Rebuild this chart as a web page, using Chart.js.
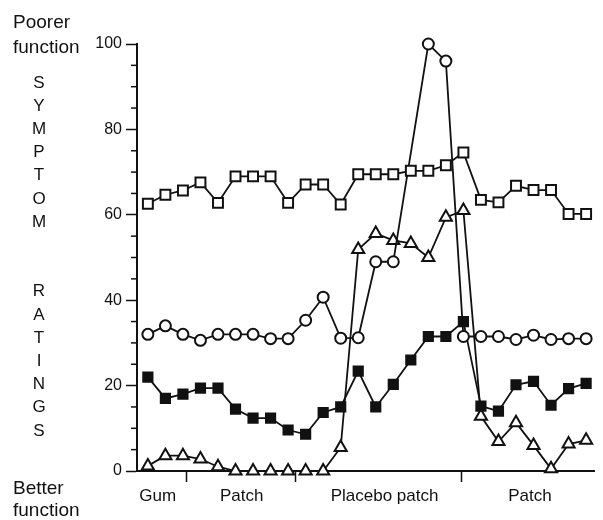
<!DOCTYPE html>
<html>
<head>
<meta charset="utf-8">
<script src="https://cdn.jsdelivr.net/npm/chart.js@4"></script>
<style>
  body { margin: 0; background: #fff; }
  #wrap { width: 603px; height: 520px; }
</style>
</head>
<body>
<div id="wrap"><canvas id="symptomChart" width="603" height="520"></canvas></div>
<script>
// sessions along the x axis
const sessions = [1, 2, 3, 4, 5, 6, 7, 8, 9, 10, 11, 12, 13, 14, 15, 16, 17, 18, 19, 20, 21, 22, 23, 24, 25, 26];

const openSquares = [62.6, 64.7, 65.7, 67.6, 62.8, 69, 69, 69, 62.8, 67.1, 67.1, 62.4, 69.5, 69.5, 69.5, 70.3, 70.3, 71.6, 74.6, 63.5, 62.9, 66.8, 65.8, 65.8, 60.2, 60.2];
const openCircles = [32, 34, 32, 30.6, 32, 32, 32, 31, 31, 35.3, 40.7, 31.1, 31.2, 49, 49, null, 100, 96, 31.5, 31.5, 31.5, 30.8, 31.8, 30.8, 31, 31];
const filledSquares = [22, 17, 18, 19.4, 19.4, 14.5, 12.4, 12.4, 9.6, 8.6, 13.7, 15, 23.4, 15, 20.3, 26, 31.5, 31.5, 35, 15.2, 14, 20.2, 21, 15.4, 19.3, 20.5];
const openTriangles = [1.2, 3.6, 3.6, 2.8, 1, 0, 0, 0, 0, 0, 0, 5.5, 51.9, 55.6, 54, 53.3, 50, 59.4, 61, 12.8, 6.9, 11.3, 6, 0.5, 6.3, 7.2];

// phases of the study
const phaseLabels = ["Gum", "Patch", "Placebo patch", "Patch"];
const phaseCenters = [1.56, 6.35, 14.5, 22.8];
const phaseBounds = [3.2, 9.4, 18.9];

const yTicks = [0, 20, 40, 60, 80, 100];
const yMinorStep = 5;

const FONT = "'Liberation Sans', Arial, Helvetica, sans-serif";

function toPoints(values) {
  return sessions.map((s, i) => ({ x: s, y: values[i] }));
}

function series(values, style, fill, radius) {
  return {
    data: toPoints(values),
    borderColor: "#111",
    borderWidth: 1.8,
    pointStyle: style,
    pointRadius: radius,
    pointHoverRadius: radius,
    pointBorderWidth: 2,
    pointBorderColor: "#111",
    pointBackgroundColor: fill,
    tension: 0,
    spanGaps: true,
    clip: false
  };
}

const annotations = {
  id: "annotations",
  afterDraw(chart) {
    const ctx = chart.ctx;
    const x = chart.scales.x;
    const y = chart.scales.y;
    ctx.save();
    ctx.fillStyle = "#111";
    ctx.strokeStyle = "#111";

    // minor ticks on y
    ctx.lineWidth = 1.5;
    for (let v = 0; v <= 100; v += yMinorStep) {
      if (yTicks.includes(v)) continue;
      const py = y.getPixelForValue(v);
      ctx.beginPath();
      ctx.moveTo(chart.chartArea.left - 6, py);
      ctx.lineTo(chart.chartArea.left, py);
      ctx.stroke();
    }

    // phase labels
    ctx.font = "17px " + FONT;
    ctx.textAlign = "center";
    ctx.textBaseline = "alphabetic";
    phaseLabels.forEach((lab, i) => {
      ctx.fillText(lab, x.getPixelForValue(phaseCenters[i]), 501);
    });

    // left side texts
    ctx.textAlign = "left";
    ctx.font = "19px " + FONT;
    ctx.fillText("Poorer", 13, 28);
    ctx.fillText("function", 13, 53);
    ctx.fillText("Better", 13, 494);
    ctx.fillText("function", 13, 516);

    ctx.font = "17px " + FONT;
    ctx.textAlign = "center";
    ctx.textBaseline = "middle";
    const title = "SYMPTOM  RATINGS";
    for (let i = 0; i < title.length; i++) {
      ctx.fillText(title[i], 39, 83 + i * 23.2);
    }
    ctx.restore();
  }
};

new Chart(document.getElementById("symptomChart"), {
  type: "line",
  data: {
    datasets: [
      series(openSquares, "rect", "#fff", 7),
      series(openCircles, "circle", "#fff", 5.5),
      series(filledSquares, "rect", "#111", 6.5),
      series(openTriangles, "triangle", "#fff", 7)
    ]
  },
  options: {
    responsive: false,
    animation: false,
    layout: { padding: { top: 44, right: 3, left: 0, bottom: 0 } },
    plugins: { legend: { display: false }, tooltip: { enabled: false } },
    scales: {
      x: {
        type: "linear",
        min: 0.38,
        max: 26.45,
        afterBuildTicks: (s) => { s.ticks = phaseBounds.map(v => ({ value: v })); },
        afterFit: (s) => { s.height = 49; },
        ticks: { display: false },
        grid: { drawOnChartArea: false, tickLength: 11, tickColor: "#111", tickWidth: 1.5 },
        border: { display: true, color: "#111", width: 2 }
      },
      y: {
        min: 0,
        max: 100,
        afterBuildTicks: (s) => { s.ticks = yTicks.map(v => ({ value: v })); },
        afterFit: (s) => { s.width = 137; },
        ticks: { color: "#111", font: { size: 16, family: FONT }, padding: 4 },
        grid: { drawOnChartArea: false, tickLength: 11, tickColor: "#111", tickWidth: 1.5 },
        border: { display: true, color: "#111", width: 2 }
      }
    }
  },
  plugins: [annotations]
});
</script>
</body>
</html>
